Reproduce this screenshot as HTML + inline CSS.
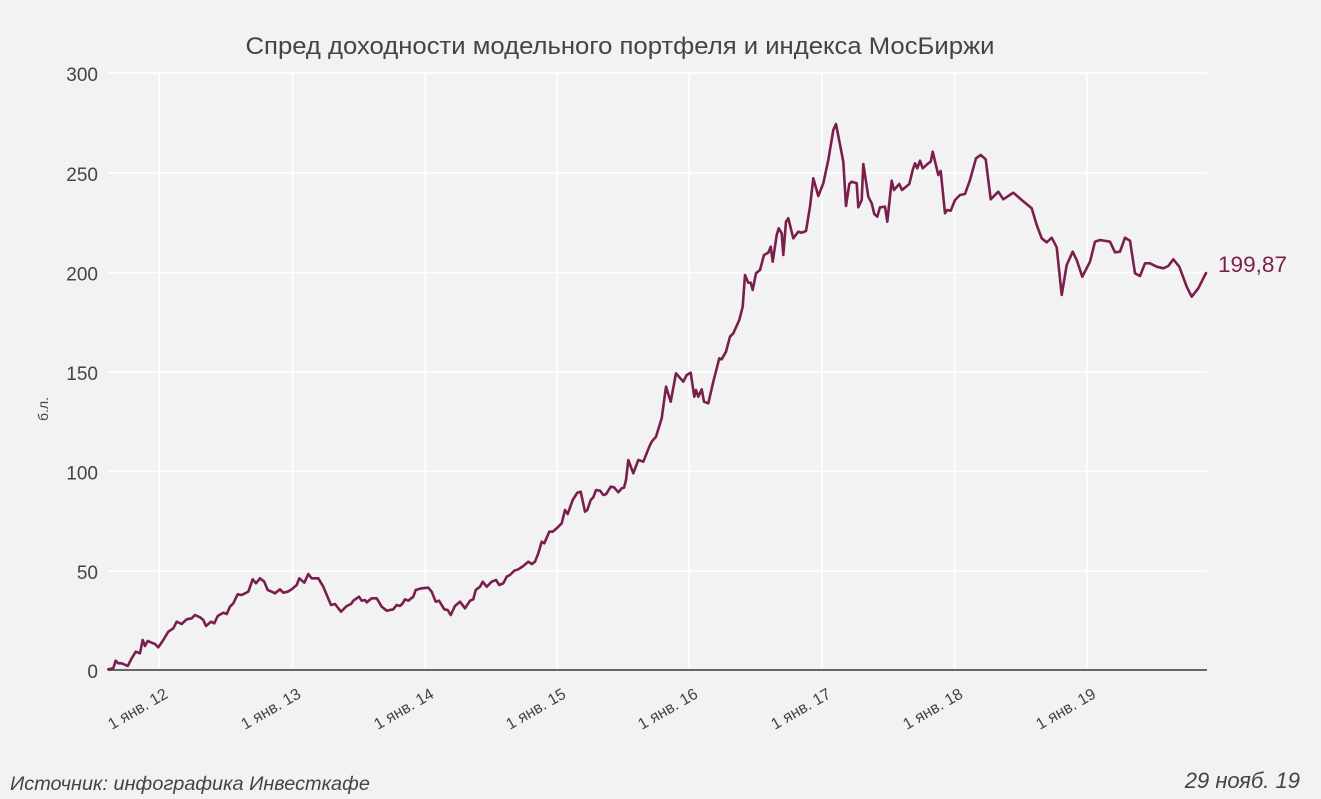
<!DOCTYPE html>
<html><head><meta charset="utf-8"><style>
html,body{margin:0;padding:0;background:#f2f2f2;}
svg{display:block;}
text{font-family:"Liberation Sans","DejaVu Sans",sans-serif;}
</style></head><body>
<svg width="1321" height="799" viewBox="0 0 1321 799" xmlns="http://www.w3.org/2000/svg">
<rect width="1321" height="799" fill="#f2f2f2"/>
<text x="620" y="54" font-size="24" fill="#444" text-anchor="middle" textLength="749" lengthAdjust="spacingAndGlyphs">Спред доходности модельного портфеля и индекса МосБиржи</text>
<g stroke="#ffffff" stroke-width="1.5">
<line x1="108" y1="73" x2="1207" y2="73"/>
<line x1="108" y1="173" x2="1207" y2="173"/>
<line x1="108" y1="272.5" x2="1207" y2="272.5"/>
<line x1="108" y1="372" x2="1207" y2="372"/>
<line x1="108" y1="471.5" x2="1207" y2="471.5"/>
<line x1="108" y1="571" x2="1207" y2="571"/>
<line x1="159.3" y1="73" x2="159.3" y2="670"/>
<line x1="292.5" y1="73" x2="292.5" y2="670"/>
<line x1="425.5" y1="73" x2="425.5" y2="670"/>
<line x1="557" y1="73" x2="557" y2="670"/>
<line x1="689" y1="73" x2="689" y2="670"/>
<line x1="822" y1="73" x2="822" y2="670"/>
<line x1="954.5" y1="73" x2="954.5" y2="670"/>
<line x1="1087" y1="73" x2="1087" y2="670"/>
</g>
<g font-size="19" fill="#444" text-anchor="end">
<text x="98" y="81">300</text>
<text x="98" y="181">250</text>
<text x="98" y="280.5">200</text>
<text x="98" y="380">150</text>
<text x="98" y="479.5">100</text>
<text x="98" y="579">50</text>
<text x="98" y="678">0</text>
</g>
<text transform="translate(48,409) rotate(-90)" font-size="14" fill="#444" text-anchor="middle">б.л.</text>
<g font-size="16" fill="#444" text-anchor="end">
<text transform="translate(169,697) rotate(-30)">1 янв. 12</text>
<text transform="translate(302,697) rotate(-30)">1 янв. 13</text>
<text transform="translate(435,697) rotate(-30)">1 янв. 14</text>
<text transform="translate(567,697) rotate(-30)">1 янв. 15</text>
<text transform="translate(699,697) rotate(-30)">1 янв. 16</text>
<text transform="translate(832,697) rotate(-30)">1 янв. 17</text>
<text transform="translate(964,697) rotate(-30)">1 янв. 18</text>
<text transform="translate(1097,697) rotate(-30)">1 янв. 19</text>
</g>
<line x1="108" y1="670" x2="1207" y2="670" stroke="#666" stroke-width="2"/>
<polyline fill="none" stroke="#7a1f4d" stroke-width="2.6" stroke-linejoin="round" stroke-linecap="round" points="
108.3,669.3 113.3,668.3 115.7,660.7 118.3,663.3 121.7,663.3 127.7,666 131.7,658.3 135.7,651.7 140,653.3 142.7,640 145,646 147.7,641 151.7,642.7 155,644 158.3,647.3 163.3,640 168.3,631.7 173.3,628.3 176.7,621.7 181.7,624 186.7,619.3 191.7,618.3 195,615 200,617.3 203.3,620 206,626 211,621.7 214.3,623.3 217.7,616 223.3,612.7 226.7,614 230,606.7 233.3,603.3 237.7,594.3 241.7,595 245,593.3 248.3,591.7 252.7,579.3 256,583.3 260,578.3 264.3,581.7 267.7,590 271.7,591.7 275,593.3 280,589.3 283.3,592.7 287.7,591.7 291.7,589.3 296.7,585 299.3,578.3 304.3,582.7 308.3,574 311.7,578.3 318.3,578.3 323.3,586.7 331,605 335,604 341,611.7 346.7,606 351,604 353.3,600.7 359,596.7 361.7,600.7 365,600 366.7,602.3 371.7,598.3 376.7,598.3 381.7,606.7 386.7,610.7 393.3,609.3 396.7,605 400,606 402.7,603.3 405,599.3 408.3,600.7 413.3,596.7 415.7,590 421.7,588.3 428.3,587.7 431.7,591.7 435.7,601.7 439,600.7 444.3,609.3 447.7,610 450.7,615 455,606 460,601.7 465,608.3 470,600.7 473.3,599.3 475.7,590 480,586.7 482.7,581.7 486.7,586.7 491.7,581.7 496,580 499.3,585 503.3,583.3 506.7,576.7 510,575 514.3,570.7 518.3,569.3 523.3,566 528.3,561.7 531.7,564 535,561.7 538.3,553.3 541.7,541.7 544.3,543.3 549.3,531.7 552.7,531.7 556.7,528.3 561.7,523.3 565,510 567.7,514 572.7,500 577.3,492.7 580.7,491.7 585,511.7 587.3,510 590.7,500 593.3,497.3 596,490 600,490.7 603.3,495 606,494.3 610.7,486.7 614,487.3 618.3,492.3 621.7,488.3 624,487.7 626,480 628.3,460 633.3,473.3 638.3,460 643.3,461.7 649.3,446.7 651.7,441.7 656,436.7 661.7,418.3 666,386.7 670.7,401.7 676,373.3 683.3,381.7 686.7,375 690.7,372.7 694.3,396.7 696,390 698.3,396.7 701.7,389.3 704,401.7 708.3,403.3 713.3,381.7 719.3,358.3 721.7,359.3 726,351.7 730,336.7 733.3,333.3 739.3,320 742.7,306.7 745,275 748.3,282.7 750.7,282.7 752.7,290 756,273.3 760,270 764,255 768.3,252.7 770.7,246.7 772.7,261.7 776.7,235 778.7,228.3 781.7,233.3 783.3,255 786,221.7 788.3,218.3 793.3,238.3 798.3,231.7 801.7,232.7 806,231 810,206.7 813.3,178.3 818.3,196 823.3,183.3 828.3,160 833.3,130 836,124 843.3,161.7 846,206 849.3,184 851.7,181.7 856.7,183.3 858.3,207.3 861.7,200 863.3,164 868.3,196.7 871.7,203.3 874.3,214 877.3,216.7 880,207.3 885,206.7 887.3,221.7 891.7,180.7 894,190 899.3,184 902,190 909.3,184 912.7,170 915,163.3 917.3,168.3 920,160.7 922.7,168.3 928.3,163.3 930.7,161.7 932.7,151.7 938.3,175 940.7,171 945,213.3 947.3,210 950.7,210.7 955,200 960,195 965,194 970,180 976,158.3 980.7,155 985.7,159.3 990.7,199.3 998.3,191.7 1003.3,199.3 1013.3,192.7 1021.7,200 1031.7,208.3 1036.7,225 1041.7,238.3 1046.7,242.3 1051.7,237.7 1056.7,247.3 1061.7,295 1066.7,265 1072.7,251.7 1076.7,260 1082.3,276.7 1090,261.7 1095,241.7 1100,240 1110,241.7 1115,252.3 1120,251.7 1125,237.7 1130,240.7 1135,273.3 1140,276 1145,263.3 1150,263.3 1156.7,266.7 1163.3,268.3 1168.3,266 1173.3,259.3 1179.3,266.7 1186.7,286.7 1191.7,296.7 1198.3,288.3 1206,273"/>
<text x="1218" y="272" font-size="22" fill="#7a1f4d" textLength="69" lengthAdjust="spacingAndGlyphs">199,87</text>
<text x="10" y="790" font-size="19" font-style="italic" fill="#444" textLength="360" lengthAdjust="spacingAndGlyphs">Источник: инфографика Инвесткафе</text>
<text x="1300" y="788" font-size="22" font-style="italic" fill="#444" text-anchor="end">29 нояб. 19</text>
</svg>
</body></html>
